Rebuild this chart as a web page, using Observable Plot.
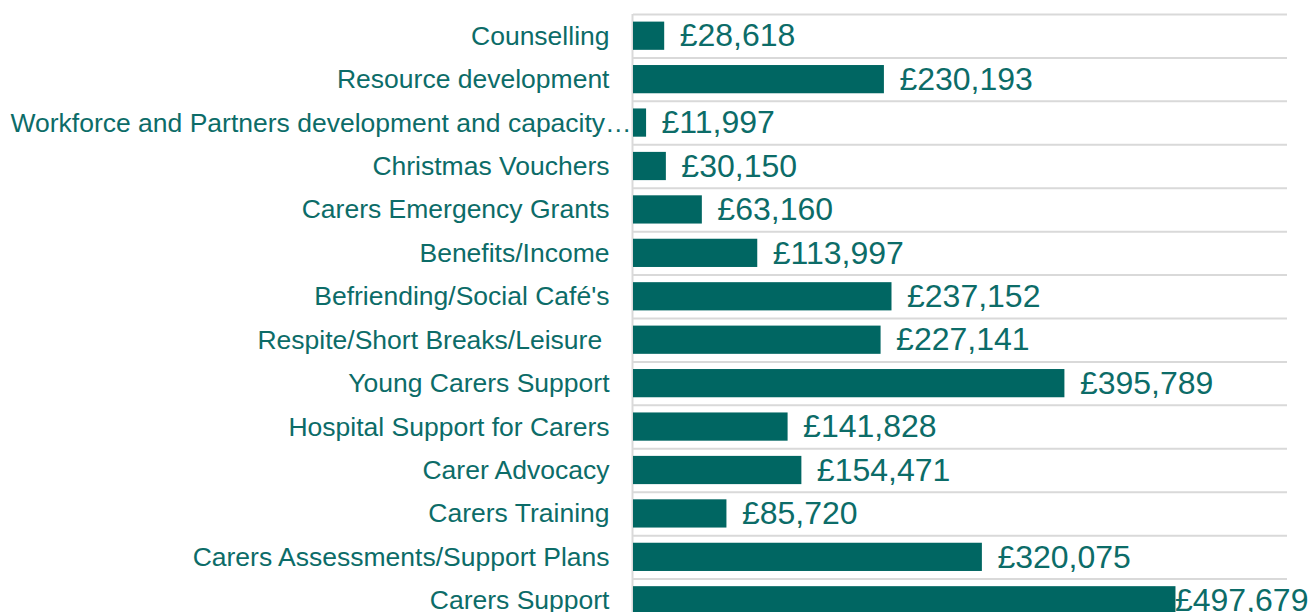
<!DOCTYPE html>
<html>
<head>
<meta charset="utf-8">
<script src="https://cdn.jsdelivr.net/npm/d3@7"></script>
<script src="https://cdn.jsdelivr.net/npm/@observablehq/plot@0.6"></script>
<style>
  html, body { margin: 0; padding: 0; background: #ffffff; overflow: hidden; }
  #chart svg { display: block; }
</style>
</head>
<body>
<div id="chart"></div>
<script>
const categories = [
  "Counselling",
  "Resource development",
  "Workforce and Partners development and capacity…",
  "Christmas Vouchers",
  "Carers Emergency Grants",
  "Benefits/Income",
  "Befriending/Social Café's",
  "Respite/Short Breaks/Leisure\u00a0",
  "Young Carers Support",
  "Hospital Support for Carers",
  "Carer Advocacy",
  "Carers Training",
  "Carers Assessments/Support Plans",
  "Carers Support"
];
const values = [28618, 230193, 11997, 30150, 63160, 113997, 237152, 227141, 395789, 141828, 154471, 85720, 320075, 497679];
const xDomain = [0, 600000];

const data = categories.map((c, i) => ({category: c, value: values[i]}));
const longLabel = categories[2];
const lastCat = categories[categories.length - 1];

const W = 1311, H = 622, mTop = 14, mBottom = 0, mLeft = 633, mRight = 24;
const step = (H - mTop - mBottom) / categories.length;
const barColor = "#006662";
const textColor = "#0c6c68";
const gridColor = "#d9d9d9";
const fmt = v => "£" + d3.format(",")(v);

const chart = Plot.plot({
  width: W,
  height: H,
  marginTop: mTop,
  marginBottom: mBottom,
  marginLeft: mLeft,
  marginRight: mRight,
  style: {fontFamily: "'Liberation Sans', Arial, sans-serif", background: "#ffffff", overflow: "visible"},
  x: {domain: xDomain, axis: null},
  y: {domain: categories, axis: null, paddingInner: 0.35, paddingOuter: 0.175, round: false},
  marks: [
    Plot.ruleY(categories, {y: d => d, dy: -step / 2, stroke: gridColor, strokeWidth: 2}),
    Plot.ruleY(categories.slice(-1), {y: d => d, dy: step / 2, stroke: gridColor, strokeWidth: 2}),
    Plot.ruleX([0], {stroke: gridColor, strokeWidth: 2, dx: -1}),
    Plot.barX(data, {x: "value", y: "category", fill: barColor}),
    Plot.text(data.filter(d => d.category !== lastCat), {x: "value", y: "category", text: d => fmt(d.value), textAnchor: "start", dx: 15, fontSize: 32, fill: textColor}),
    Plot.text(data.filter(d => d.category === lastCat), {x: "value", y: "category", text: d => fmt(d.value), textAnchor: "start", dx: -1, fontSize: 32, fill: textColor}),
    Plot.text(categories.filter(c => c !== longLabel), {y: d => d, frameAnchor: "left", textAnchor: "end", dx: -24, fontSize: 26.5, fill: textColor}),
    Plot.text([longLabel], {y: d => d, frameAnchor: "left", textAnchor: "start", dx: -(mLeft - 10), fontSize: 26.5, fill: textColor})
  ]
});
document.getElementById("chart").appendChild(chart);
</script>
</body>
</html>
